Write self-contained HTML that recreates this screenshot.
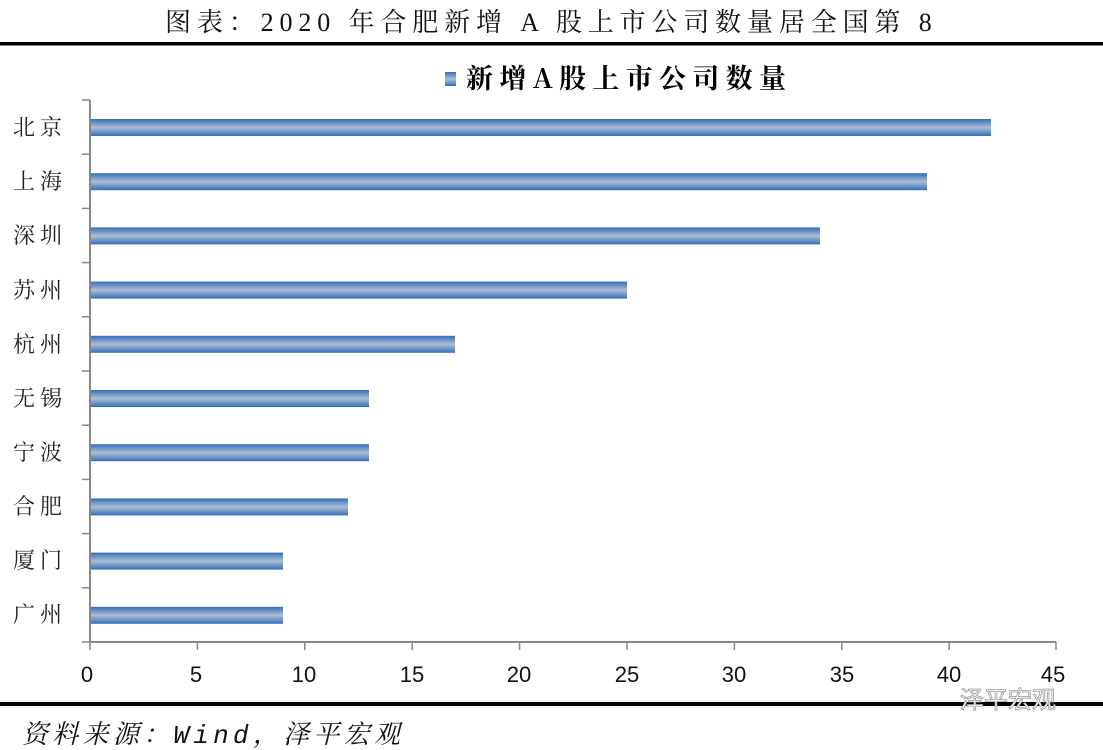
<!DOCTYPE html>
<html><head><meta charset="utf-8"><style>
body{margin:0;background:#fff;width:1103px;height:750px;overflow:hidden;position:relative;font-family:"Liberation Serif","Noto Serif CJK SC",serif}
</style></head><body>
<svg width="1103" height="750" xmlns="http://www.w3.org/2000/svg" style="position:absolute;left:0;top:0">
<defs><linearGradient id="g" x1="0" y1="0" x2="0" y2="1">
<stop offset="0" stop-color="#2f6cc4"/><stop offset="0.15" stop-color="#5b86bf"/><stop offset="0.5" stop-color="#a9bfd5"/><stop offset="0.85" stop-color="#5b86bf"/><stop offset="1" stop-color="#2f6cc4"/></linearGradient></defs>
<text x="165" y="31" font-family="Liberation Serif,'Noto Serif CJK SC',serif" font-size="26" letter-spacing="3.2" textLength="770" lengthAdjust="spacing" fill="#111">图表：2020 年合肥新增 A 股上市公司数量居全国第 8</text>
<rect x="0" y="42" width="1103" height="3.5" fill="#000"/>
<rect x="445" y="72" width="11" height="14" fill="url(#g)"/>
<text x="466" y="88" font-family="'Noto Serif CJK SC',serif" font-weight="bold" font-size="27" textLength="320" lengthAdjust="spacing" fill="#000">新增A股上市公司数量</text>
<g stroke="#888" stroke-width="2" fill="none">
<line x1="90" y1="100" x2="90" y2="643"/>
<line x1="90" y1="642" x2="1056" y2="642"/>
</g>
<g stroke="#888" stroke-width="1.5">
<line x1="82" y1="100" x2="90" y2="100"/><line x1="82" y1="154.2" x2="90" y2="154.2"/><line x1="82" y1="208.4" x2="90" y2="208.4"/><line x1="82" y1="262.6" x2="90" y2="262.6"/><line x1="82" y1="316.8" x2="90" y2="316.8"/><line x1="82" y1="371" x2="90" y2="371"/><line x1="82" y1="425.2" x2="90" y2="425.2"/><line x1="82" y1="479.4" x2="90" y2="479.4"/><line x1="82" y1="533.6" x2="90" y2="533.6"/><line x1="82" y1="587.8" x2="90" y2="587.8"/><line x1="82" y1="642" x2="90" y2="642"/>
<line x1="90" y1="642" x2="90" y2="650"/><line x1="197.4" y1="642" x2="197.4" y2="650"/><line x1="304.8" y1="642" x2="304.8" y2="650"/><line x1="412.2" y1="642" x2="412.2" y2="650"/><line x1="519.6" y1="642" x2="519.6" y2="650"/><line x1="627" y1="642" x2="627" y2="650"/><line x1="734.4" y1="642" x2="734.4" y2="650"/><line x1="841.8" y1="642" x2="841.8" y2="650"/><line x1="949.2" y1="642" x2="949.2" y2="650"/><line x1="1056" y1="642" x2="1056" y2="650"/>
</g>
<g fill="url(#g)">
<rect x="91" y="119" width="900" height="17"/>
<rect x="91" y="173.2" width="836" height="17"/>
<rect x="91" y="227.4" width="729" height="17"/>
<rect x="91" y="281.6" width="536" height="17"/>
<rect x="91" y="335.8" width="364" height="17"/>
<rect x="91" y="390" width="278" height="17"/>
<rect x="91" y="444.2" width="278" height="17"/>
<rect x="91" y="498.4" width="257" height="17"/>
<rect x="91" y="552.6" width="192" height="17"/>
<rect x="91" y="606.8" width="192" height="17"/>
</g>
<g font-family="'Noto Serif CJK SC',serif" font-size="22" fill="#222" letter-spacing="5">
<text x="13" y="135">北京</text><text x="13" y="189">上海</text><text x="13" y="243">深圳</text><text x="13" y="298">苏州</text><text x="13" y="352">杭州</text><text x="13" y="406">无锡</text><text x="13" y="460">宁波</text><text x="13" y="514">合肥</text><text x="13" y="568">厦门</text><text x="13" y="622">广州</text>
</g>
<g font-family="'Liberation Sans',sans-serif" font-size="22" fill="#111" text-anchor="middle">
<text x="87" y="682">0</text><text x="196" y="682">5</text><text x="304" y="682">10</text><text x="412" y="682">15</text><text x="519" y="682">20</text><text x="627" y="682">25</text><text x="734" y="682">30</text><text x="842" y="682">35</text><text x="949" y="682">40</text><text x="1053" y="682">45</text>
</g>
<rect x="0" y="702" width="1103" height="4" fill="#000"/>
<text x="960" y="708" font-family="'Noto Sans CJK SC',sans-serif" font-size="24" fill="#fff" stroke="#999" stroke-width="0.8">泽平宏观</text>
<text x="22" y="743" font-family="'Liberation Mono','Noto Serif CJK SC',monospace" font-style="italic" font-size="26" textLength="378" lengthAdjust="spacing" fill="#111">资料来源：Wind，泽平宏观</text>
</svg>
</body></html>
